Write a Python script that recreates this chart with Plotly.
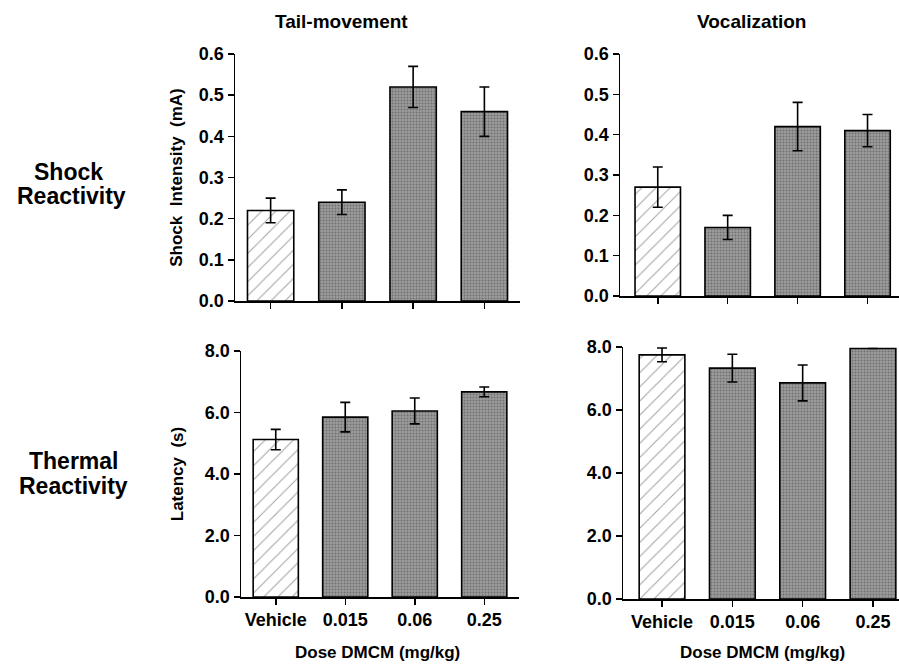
import plotly.graph_objects as go

doses = ["Vehicle", "0.015", "0.06", "0.25"]

tail_shock = [0.22, 0.24, 0.52, 0.46]
tail_shock_err = [0.03, 0.03, 0.05, 0.06]
voc_shock = [0.27, 0.17, 0.42, 0.41]
voc_shock_err = [0.05, 0.03, 0.06, 0.04]
tail_thermal = [5.12, 5.85, 6.05, 6.67]
tail_thermal_err = [0.33, 0.48, 0.42, 0.16]
voc_thermal = [7.75, 7.33, 6.86, 7.95]
voc_thermal_err = [0.22, 0.44, 0.57, 0.0]

shock_ticks = [0.0, 0.1, 0.2, 0.3, 0.4, 0.5, 0.6]
thermal_ticks = [0.0, 2.0, 4.0, 6.0, 8.0]

FONT = "Liberation Sans, Arial, Helvetica, sans-serif"
W, H = 899, 665
NB = "\u00a0"

pattern_shapes = ["/", ".", ".", "."]
pattern_bg = ["white", "#9c9c9c", "#9c9c9c", "#9c9c9c"]
pattern_fg = ["#6a6a6a", "#3c3c3c", "#3c3c3c", "#3c3c3c"]
pattern_size = [10, 3, 3, 3]
pattern_sol = [0.1, 0.35, 0.35, 0.35]

fig = go.Figure()

panels = [
    (tail_shock, tail_shock_err, "x", "y"),
    (voc_shock, voc_shock_err, "x2", "y2"),
    (tail_thermal, tail_thermal_err, "x3", "y3"),
    (voc_thermal, voc_thermal_err, "x4", "y4"),
]
for vals, errs, xa, ya in panels:
    fig.add_trace(go.Bar(
        x=doses, y=vals, xaxis=xa, yaxis=ya, width=0.65,
        marker=dict(
            color=pattern_bg,
            line=dict(color="black", width=1.6),
            pattern=dict(shape=pattern_shapes, bgcolor=pattern_bg,
                         fgcolor=pattern_fg, size=pattern_size,
                         solidity=pattern_sol, fillmode="overlay"),
        ),
        error_y=dict(type="data", array=errs, visible=True,
                     color="black", thickness=1.6, width=5),
        showlegend=False, hoverinfo="skip",
    ))

tickfont = dict(family=FONT, size=18, color="black", weight="bold")
titlefont = dict(family=FONT, size=17, color="black", weight="bold")

def xaxis(x0, x1, rng, anchor, labels):
    return dict(
        domain=[x0 / W, x1 / W], range=rng, anchor=anchor,
        type="category", showline=True, linecolor="black", linewidth=1.5,
        ticks="outside", ticklen=6, tickwidth=1.5, tickcolor="black",
        showticklabels=labels, tickfont=tickfont, showgrid=False,
        zeroline=False, fixedrange=True, automargin=False,
    )

def yaxis(ybot, ytop, rng, ticks, anchor, title, standoff):
    return dict(
        domain=[1 - ybot / H, 1 - ytop / H], range=rng, anchor=anchor,
        showline=True, linecolor="black", linewidth=1.5,
        ticks="outside", ticklen=6, tickwidth=1.5, tickcolor="black",
        tickvals=ticks, tickformat=".1f", tickfont=tickfont,
        showgrid=False, zeroline=False, fixedrange=True, automargin=False,
        title=dict(text=title, font=titlefont, standoff=standoff),
    )

fig.update_layout(
    width=W, height=H,
    margin=dict(l=0, r=0, t=0, b=0, pad=0),
    paper_bgcolor="white", plot_bgcolor="white",
    xaxis=xaxis(235, 520, [-0.5, 3.5], "y", False),
    yaxis=yaxis(301, 54, [0, 0.6], shock_ticks, "x",
                "Shock" + NB * 2 + "Intensity" + NB * 2 + "(mA)", 12),
    xaxis2=xaxis(620, 899, [-0.54, 3.45], "y2", False),
    yaxis2=yaxis(296, 54, [0, 0.6], shock_ticks, "x2", "", 10),
    xaxis3=xaxis(241, 519, [-0.5, 3.5], "y3", True),
    yaxis3=yaxis(597, 351, [0, 8.0], thermal_ticks, "x3",
                 "Latency" + NB * 2 + "(s)", 17),
    xaxis4=xaxis(623, 899, [-0.555, 3.37], "y4", True),
    yaxis4=yaxis(599, 347, [0, 8.0], thermal_ticks, "x4", "", 10),
)

big = dict(family=FONT, size=19, color="black", weight="bold")
row = dict(family=FONT, size=23, color="black", weight="bold")
ann = [
    dict(text="Tail-movement", x=341 / W, y=1 - 22 / H, font=big),
    dict(text="Vocalization", x=751 / W, y=1 - 22 / H, font=big),
    dict(text="Shock", x=68 / W, y=1 - 172 / H, font=row),
    dict(text="Reactivity", x=71 / W, y=1 - 196 / H, font=row),
    dict(text="Thermal", x=73 / W, y=1 - 461 / H, font=row),
    dict(text="Reactivity", x=73 / W, y=1 - 486 / H, font=row),
    dict(text="Dose" + NB + "DMCM" + NB + "(mg/kg)", x=377 / W, y=1 - 652 / H, font=titlefont),
    dict(text="Dose" + NB + "DMCM" + NB + "(mg/kg)", x=762 / W, y=1 - 652 / H, font=titlefont),
]
for a in ann:
    fig.add_annotation(xref="paper", yref="paper", showarrow=False,
                       xanchor="center", yanchor="middle", **a)

fig.write_html("out.html",
               config={"displayModeBar": False, "staticPlot": True},
               post_script="document.body.style.margin='0';document.body.style.overflow='hidden';")
